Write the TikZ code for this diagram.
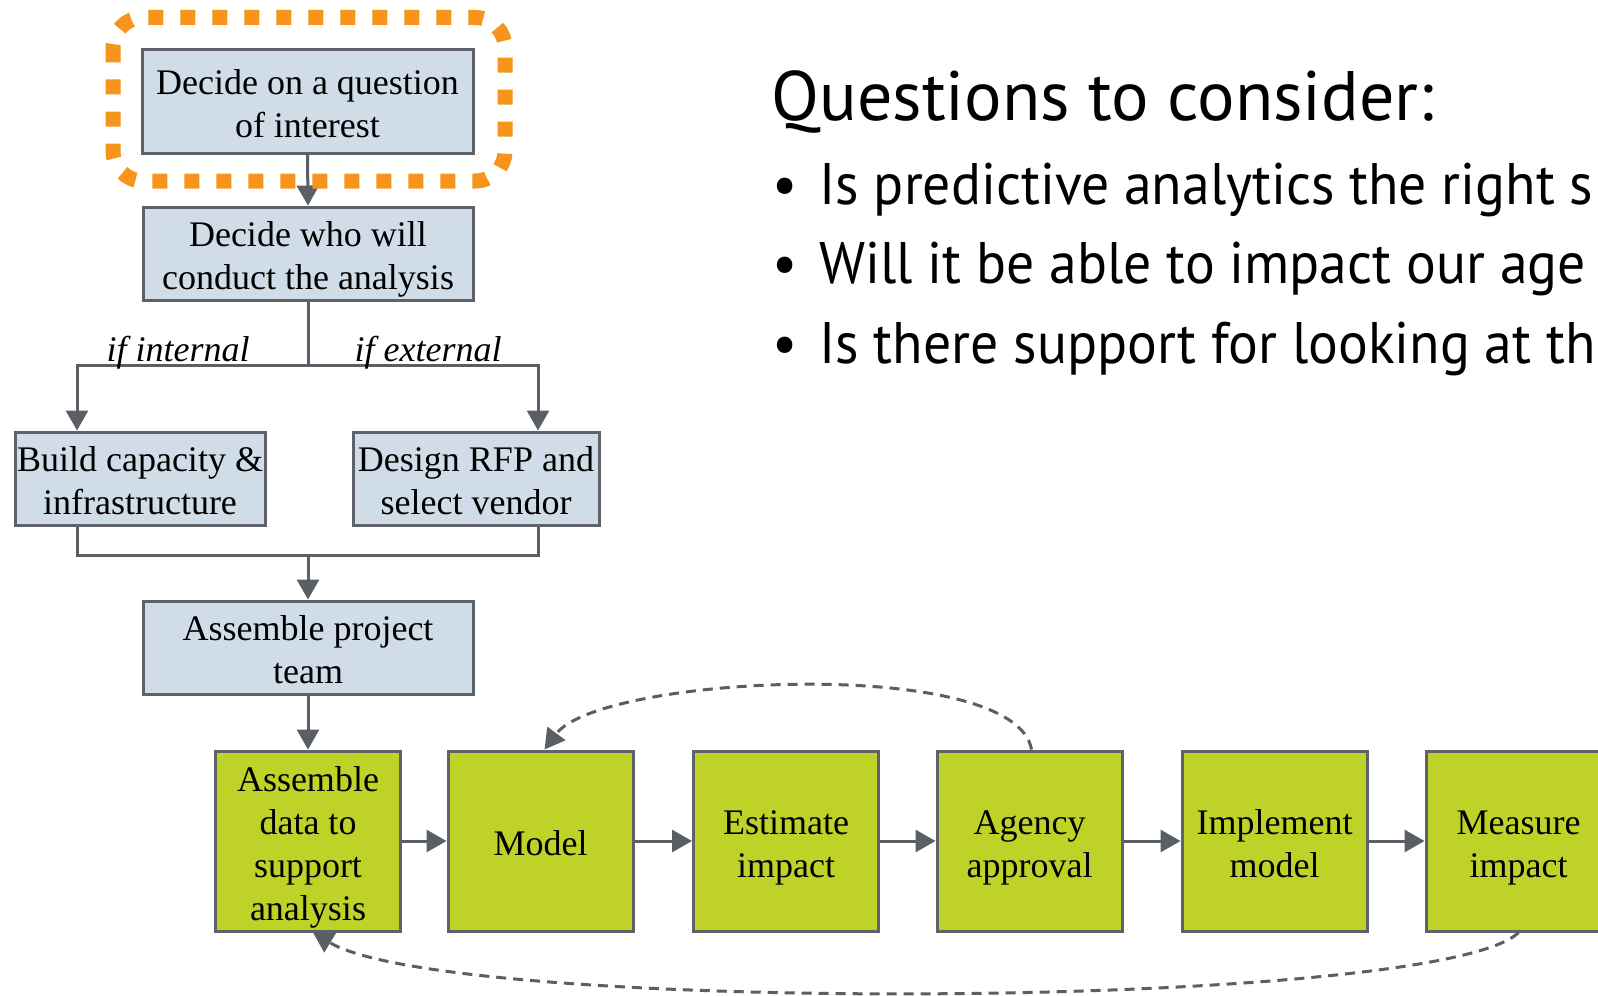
\documentclass[tikz,border=0pt]{standalone}
\usepackage{fontspec}
\setmainfont{Liberation Serif}
\newfontfamily\qfont[FakeStretch=0.95]{PT Sans}
\newfontfamily\tfont{PT Sans}
\usetikzlibrary{arrows.meta,calc}
\definecolor{boxblue}{RGB}{208,221,233}
\definecolor{boxline}{RGB}{95,99,105}
\definecolor{conncol}{RGB}{90,95,102}
\definecolor{lime}{RGB}{191,210,40}
\definecolor{orng}{RGB}{247,148,29}
\newcommand\boxtxt[1]{\raisebox{-3pt}[\height][\depth]{\begin{tabular}{@{}c@{}}#1\end{tabular}}}
\begin{document}
\begin{tikzpicture}[x=0.5pt,y=-0.5pt,
 bluebox/.style={draw=boxline, line width=1.5pt, fill=boxblue, minimum height=46.5pt, font=\fontsize{18}{21.5}\selectfont, inner sep=0pt},
 greenbox/.style={draw=boxline, line width=1.5pt, fill=lime, minimum width=92.5pt, minimum height=90pt, font=\fontsize{18}{21.5}\selectfont, inner sep=0pt},
 conn/.style={draw=conncol, line width=1.5pt},
 arr/.style={conn, -{Triangle[width=11pt,length=10pt]}},
 darr/.style={arr, dash pattern=on 5pt off 3.5pt},
 lbl/.style={font=\fontsize{18}{21.5}\selectfont\itshape, anchor=base, inner sep=0pt},
 qtext/.style={anchor=base west, inner sep=0pt, font=\qfont\fontsize{29.3}{35}\selectfont}
]
\useasboundingbox[fill=white] (0,0) rectangle (1598,995);

% blue boxes
\node[bluebox, minimum width=165.5pt, minimum height=51.5pt] (b1) at (307.5,101.5) {\boxtxt{Decide on a question\\of interest}};
\node[bluebox, minimum width=165pt] (b2) at (308,253.5) {\boxtxt{Decide who will\\conduct the analysis}};
\node[bluebox, minimum width=125pt] (b3) at (140,478.5) {\boxtxt{Build capacity \&\\infrastructure}};
\node[bluebox, minimum width=123pt] (b4) at (476,478.5) {\boxtxt{Design RFP and\\select vendor}};
\node[bluebox, minimum width=165pt] (b5) at (308,647.5) {\boxtxt{Assemble project\\team}};

% green boxes
\node[greenbox] (g1) at (308,841) {\boxtxt{Assemble\\data to\\support\\analysis}};
\node[greenbox] (g2) at (540.5,841) {\boxtxt{Model}};
\node[greenbox] (g3) at (786,841) {\boxtxt{Estimate\\impact}};
\node[greenbox] (g4) at (1029.5,841) {\boxtxt{Agency\\approval}};
\node[greenbox] (g5) at (1274.5,841) {\boxtxt{Implement\\model}};
\node[greenbox] (g6) at (1518.5,841) {\boxtxt{Measure\\impact}};

% connectors
\draw[arr] (b1.south) -- (b2.north);
\coordinate (sp) at (308,365);
\coordinate (sl) at (77,365);
\coordinate (sr) at (538,365);
\draw[conn] (b2.south) -- (sp);
\draw[arr] (sp) -- (sl) -- (sl |- b3.north);
\draw[arr] (sp) -- (sr) -- (sr |- b4.north);
\coordinate (ml) at (77,555);
\coordinate (mr) at (538,555);
\coordinate (mc) at (308,555);
\draw[conn] (ml |- b3.south) -- (ml) -- (mr) -- (mr |- b4.south);
\draw[arr] (mc) -- (b5.north);
\draw[arr] (b5.south) -- (g1.north);
\draw[arr] (g1.east) -- (g2.west);
\draw[arr] (g2.east) -- (g3.west);
\draw[arr] (g3.east) -- (g4.west);
\draw[arr] (g4.east) -- (g5.west);
\draw[arr] (g5.east) -- (g6.west);
\draw[darr] ($(g4.north)+(2,0)$) .. controls (1015,655) and (600,675) .. ($(g2.north)+(4,0)$);
\draw[darr] (g6.south) .. controls (1440,1010) and (450,1015) .. ($(g1.south)+(5,0)$);

% labels
\node[lbl] (li) at (178,361) {if internal};
\node[lbl] (le) at (428,361) {if external};

% orange highlight
\draw[orng, line width=7.5pt, dash pattern=on 7.5pt off 8.5pt, rounded corners=15pt] (113,17.5) rectangle (505,181);

% questions
\begin{scope}
\clip (0,0) rectangle (1598,995);
\node[anchor=base west, inner sep=0pt, font=\tfont\fontsize{35}{40}\selectfont] (title) at (771,120) {Questions to consider:};
\node[qtext] (d1) at (772,204) {•};
\node[qtext] (q1) at (819,204) {Is predictive analytics the right s};
\node[qtext] (d2) at (772,283) {•};
\node[qtext] (q2) at (819,283) {Will it be able to impact our age};
\node[qtext] (d3) at (772,363) {•};
\node[qtext] (q3) at (819,363) {Is there support for looking at th};
\end{scope}
\end{tikzpicture}
\end{document}
